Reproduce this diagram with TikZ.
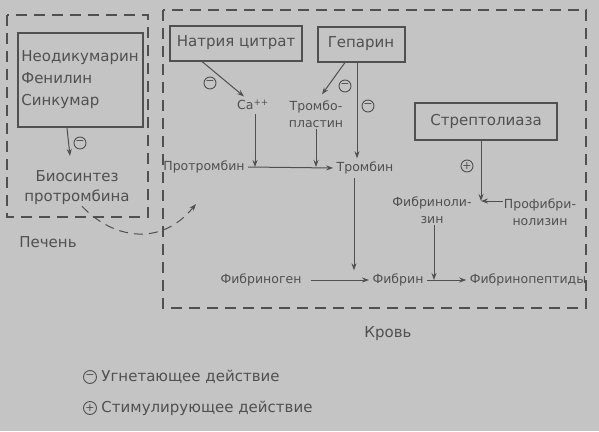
\documentclass[tikz,border=0pt]{standalone}
\usepackage{fontspec}
\setmainfont{DejaVu Sans}
\usetikzlibrary{arrows.meta,positioning,calc}
\definecolor{ink}{HTML}{505050}
\definecolor{slide}{HTML}{C4C4C4}

\begin{document}
\begin{tikzpicture}[x=1pt, y=-1pt,
  every node/.style={text=ink, font=\fontsize{12.5}{17}\selectfont},
  drug/.style={draw=ink, line width=2pt, inner sep=3pt,
               font=\fontsize{15}{22}\selectfont},
  term/.style={align=center, inner sep=1pt},
  big/.style={font=\fontsize{15}{20}\selectfont},
  zone/.style={draw=ink, line width=1.3pt, dash pattern=on 11pt off 7pt},
  arr/.style={-{Stealth[length=7pt,width=5pt]}, draw=ink, line width=1pt},
  sign/.style={draw=ink, circle, line width=0.9pt, minimum size=12pt,
               inner sep=0pt, font=\fontsize{11}{11}\selectfont}
]
  \fill[slide] (0,0) rectangle (599,431);

  % areas
  \draw[zone] (7,15) rectangle (148,217);
  \draw[zone] (163,10) rectangle (586,308);
  \node[big] (liver) at (48,242) {Печень};
  \node[big] (blood) at (388,334) {Кровь};

  % liver
  \node[drug, align=left, minimum width=125pt, minimum height=94pt] (anticoag)
    at (80,80) {Неодикумарин\\Фенилин\\Синкумар};
  \node[term, big] (bio) at (77,188) {Биосинтез\\протромбина};
  \draw[arr] ([xshift=-13pt]anticoag.south) -- ([xshift=-10pt]anticoag.south |- 0,156);
  \node[sign] (s0) at (80,143) {−};
  \coordinate (protin) at (196,204);
  \draw[arr, dash pattern=on 9pt off 6pt] ([xshift=5pt]bio.south) .. controls (112,238) and (160,248) .. (protin);

  % blood
  \node[drug, minimum width=132pt, minimum height=35pt] (natr) at (236,43) {Натрия цитрат};
  \node[drug, minimum width=87pt, minimum height=35pt] (hep) at (361,44) {Гепарин};
  \node[drug, minimum width=142pt, minimum height=37pt] (strep) at (486,121) {Стрептолиаза};

  \node (ca) at (253,105) {Ca\textsuperscript{++}};
  \node[term] (tpl) at (316,114) {Тромбо-\\пластин};
  \node (prot) at (204,167) {Протромбин};
  \node (thr) at (365,168) {Тромбин};
  \node (fbg) at (261,280) {Фибриноген};
  \node (fbn) at (398,280) {Фибрин};
  \node (fpep) at (528,280) {Фибринопептиды};
  \node[term] (fln) at (432,210) {Фибриноли-\\зин};
  \node[term] (pfb) at (540,212) {Профибри-\\нолизин};

  \draw[arr] ([xshift=-34pt]natr.south) -- ([xshift=-9pt]ca.north);
  \node[sign] (s1) at (210,83) {−};
  \draw[arr] ([xshift=-16pt]hep.south) -- ([xshift=6pt,yshift=5pt]tpl.north);
  \node[sign] (s2) at (345,86) {−};
  \draw[arr] ([xshift=-4pt]hep.south) -- ([xshift=-4pt]hep.south |- thr.north);
  \node[sign] (s3) at (368,106) {−};

  \draw[arr] (prot.east) -- (thr.west);
  \draw[arr] ([xshift=2pt]ca.south) -- ([xshift=2pt]ca.south |- prot.east);
  \draw[arr] (tpl.south) -- (tpl.south |- prot.east);
  \draw[arr] ([xshift=-11pt]thr.south) -- ([xshift=-11pt]thr.south |- fbn.north);

  \draw[arr, shorten <=6pt] (fbg.east) -- (fbn.west);
  \draw[arr] (fbn.east) -- (fpep.west);
  \draw[arr] ([xshift=2pt]fln.south) -- ([xshift=2pt]fln.south |- fbn.east);

  \coordinate (jfl) at (481,201);
  \draw[arr] (strep.south -| jfl) -- (jfl);
  \draw[arr] ([yshift=11pt]pfb.west) -- (jfl);
  \node[sign] (s4) at (467,166) {+};

  % legend
  \node[sign, minimum size=13pt] (legm) at (90,377) {−};
  \node[big, right=1pt of legm] (legmt) {Угнетающее действие};
  \node[sign, minimum size=13pt] (legp) at (90,408) {+};
  \node[big, right=1pt of legp] (legpt) {Стимулирующее действие};
\end{tikzpicture}
\end{document}
